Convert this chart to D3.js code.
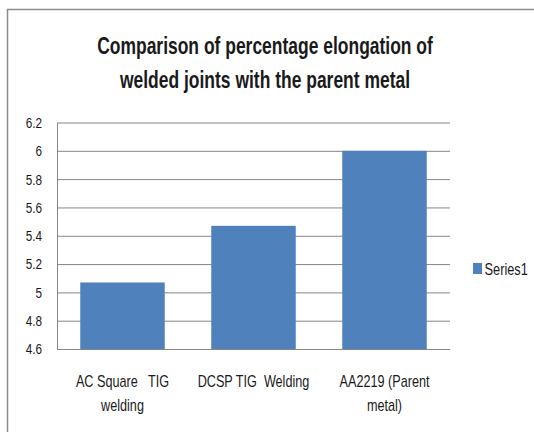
<!DOCTYPE html>
<html>
<head>
<meta charset="utf-8">
<script src="https://cdn.jsdelivr.net/npm/d3@7"></script>
<style>
  html, body { margin: 0; padding: 0; background: #fff; }
  svg { display: block; }
  text { font-family: "Liberation Sans", Arial, sans-serif; fill: #1a1a1a; }
</style>
</head>
<body>
<div id="chart"></div>
<script>
const categories = [["AC Square   TIG", "welding"], ["DCSP TIG  Welding"], ["AA2219 (Parent", "metal)"]];
const values = [5.07, 5.47, 6.0];
const seriesName = "Series1";
const yTicks = [4.6, 4.8, 5.0, 5.2, 5.4, 5.6, 5.8, 6.0, 6.2];
const titleLines = ["Comparison of percentage elongation of", "welded joints with the parent metal"];

const W = 534, H = 432;
const svg = d3.select("#chart").append("svg").attr("width", W).attr("height", H);

// condensed text helper
function ctext(g, x, y, str, size, sx, anchor, weight) {
  return g.append("text")
    .attr("transform", `translate(${x},${y}) scale(${sx},1)`)
    .attr("text-anchor", anchor || "start")
    .attr("font-size", size)
    .attr("font-weight", weight || "normal")
    .style("white-space", "pre")
    .text(str);
}

// outer border
svg.append("rect").attr("x", 7.5).attr("y", 9.5).attr("width", 540).attr("height", 440)
  .attr("fill", "none").attr("stroke", "#8c8c8c").attr("stroke-width", 1.5);

const plot = { left: 57, right: 450, top: 122.5, bottom: 349 };
const x = d3.scaleBand().domain(d3.range(categories.length))
  .range([plot.left, plot.right]).paddingInner(0.355).paddingOuter(0.1775);
const y = d3.scaleLinear().domain([4.6, 6.2]).range([plot.bottom, plot.top]);

// y axis + gridlines
const yAxis = d3.axisLeft(y).tickValues(yTicks).tickSize(-(plot.right - plot.left)).tickSizeOuter(0)
  .tickPadding(15).tickFormat(d => d3.format("~g")(d));
const gy = svg.append("g").attr("transform", `translate(${plot.left},0)`).call(yAxis);
gy.select(".domain").attr("stroke", "#868686").attr("stroke-width", 1);
gy.selectAll(".tick line").attr("stroke", "#868686").attr("stroke-width", 1);
gy.selectAll(".tick text")
  .attr("x", 0).attr("dy", "0.35em")
  .attr("transform", "translate(-15,0) scale(0.84,1)")
  .attr("font-size", 14).attr("fill", "#1a1a1a")
  .attr("font-family", "'Liberation Sans', Arial, sans-serif");

// bars
svg.append("g").selectAll("rect").data(values).join("rect")
  .attr("x", (d, i) => x(i))
  .attr("width", x.bandwidth())
  .attr("y", d => y(d))
  .attr("height", d => y(4.6) - y(d))
  .attr("fill", "#4F81BD");

// category labels
const cat = svg.append("g");
categories.forEach((lines, i) => {
  const cx = x(i) + x.bandwidth() / 2;
  lines.forEach((ln, j) => {
    ctext(cat, cx, 387 + j * 23.5, ln, 16, 0.79, "middle");
  });
});

// title
const tg = svg.append("g");
titleLines.forEach((ln, j) => {
  ctext(tg, 265, 54 + j * 34, ln, 23, 0.76, "middle", "bold");
});

// legend
const lg = svg.append("g");
lg.append("rect").attr("x", 473).attr("y", 263).attr("width", 9).attr("height", 11).attr("fill", "#4F81BD");
ctext(lg, 484.5, 274.5, seriesName, 16, 0.8, "start");
</script>
</body>
</html>
